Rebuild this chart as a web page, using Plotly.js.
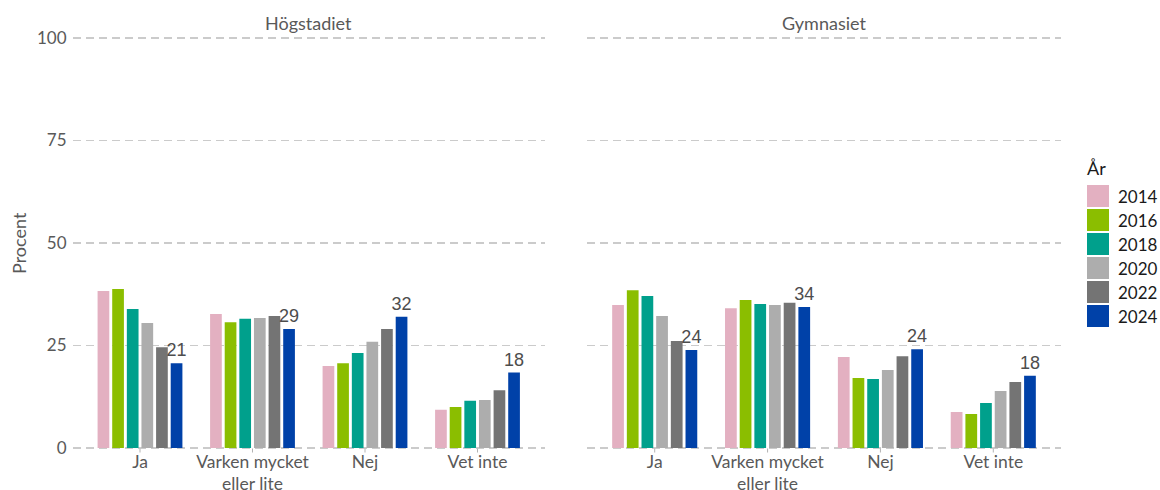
<!DOCTYPE html>
<html>
<head>
<meta charset="utf-8">
<script src="https://cdn.plot.ly/plotly-3.0.1.min.js"></script>
<style>html,body{margin:0;padding:0;background:#fff}</style>
</head>
<body>
<div id="chart" style="width:1160px;height:490px"></div>
<script>
// ---- data ----
const categories = ["Ja", "Varken mycket<br>eller lite", "Nej", "Vet inte"];
const panels = ["Högstadiet", "Gymnasiet"];
const years = ["2014", "2016", "2018", "2020", "2022", "2024"];
const colors = ["#E3B0C1", "#8BBE00", "#00A08C", "#ADADAD", "#747474", "#0041A8"];

// Högstadiet: values per year, ordered as categories
const hog2014 = [38.3, 32.7, 20.0, 9.3];
const hog2016 = [38.8, 30.7, 20.7, 10.0];
const hog2018 = [33.9, 31.5, 23.2, 11.5];
const hog2020 = [30.5, 31.7, 25.9, 11.7];
const hog2022 = [24.6, 32.2, 29.0, 14.1];
const hog2024 = [20.7, 29.0, 32.0, 18.4];

// Gymnasiet
const gym2014 = [34.9, 34.1, 22.2, 8.8];
const gym2016 = [38.5, 36.1, 17.1, 8.3];
const gym2018 = [37.1, 35.1, 16.8, 11.0];
const gym2020 = [32.2, 34.9, 19.0, 13.9];
const gym2022 = [26.1, 35.4, 22.4, 16.1];
const gym2024 = [23.9, 34.4, 24.1, 17.6];

const yTicks = [0, 25, 50, 75, 100];

const hogSeries = [hog2014, hog2016, hog2018, hog2020, hog2022, hog2024];
const gymSeries = [gym2014, gym2016, gym2018, gym2020, gym2022, gym2024];

// ---- traces ----
const labelFont = {family: "Liberation Sans, Arial, sans-serif", size: 18, color: "#4D4D4D"};
const traces = [];
function addPanel(series, xa, ya) {
  series.forEach((vals, i) => {
    const isLast = i === years.length - 1;
    traces.push({
      type: "bar",
      name: years[i],
      x: categories,
      y: vals,
      xaxis: xa,
      yaxis: ya,
      marker: {color: colors[i]},
      showlegend: false,
      text: isLast ? vals.map(v => String(Math.round(v))) : undefined,
      textposition: isLast ? "outside" : "none",
      textfont: labelFont,
      constraintext: "none",
      cliponaxis: false,
      hoverinfo: "x+y+name"
    });
  });
}
addPanel(hogSeries, "x", "y");
addPanel(gymSeries, "x2", "y2");

// ---- layout helpers ----
const W = 1160, H = 490;
const px = v => v / W;
const py = v => (H - v) / H;

const fontFam = "Lato, Open Sans, sans-serif";
const yTickFont = {family: fontFam, size: 17, color: "#595959"};
const xTickFont = {family: fontFam, size: 17.5, color: "#595959"};
const gridCol = "#CBCBCB";

function xAxis(domain, anchor) {
  return {
    domain: domain,
    anchor: anchor,
    type: "category",
    range: [-0.6, 3.6],
    showgrid: false,
    zeroline: false,
    showline: false,
    ticks: "",
    ticklen: 0,
    tickfont: xTickFont,
    fixedrange: true
  };
}
function yAxis(anchor, showLabels) {
  return {
    anchor: anchor,
    domain: [py(449.23), py(36.77)],
    range: [-0.3, 100.3],
    tickvals: yTicks,
    showticklabels: showLabels,
    tickfont: yTickFont,
    ticklabelstandoff: 5,
    showgrid: true,
    gridcolor: gridCol,
    gridwidth: 1.5,
    griddash: "8px,5px",
    zeroline: false,
    showline: false,
    ticks: "",
    fixedrange: true
  };
}

const annotations = [];
const shapes = [];
panels.forEach((p, i) => {
  const xr = i === 0 ? "x" : "x2";
  annotations.push({
    text: p, xref: xr + " domain", x: 0.5,
    yref: "paper", y: py(23), xanchor: "center", yanchor: "middle",
    showarrow: false, font: {family: fontFam, size: 18, color: "#595959"}
  });
  // small category tick marks below the baseline
  categories.forEach(c => {
    shapes.push({
      type: "line", xref: xr, yref: "paper",
      x0: c, x1: c, y0: py(448.5), y1: py(452.5),
      line: {color: "#B3B3B3", width: 1}
    });
  });
});
// y axis title
annotations.push({
  text: "Procent", xref: "paper", x: px(19), yref: "paper", y: py(243),
  textangle: -90, xanchor: "center", yanchor: "middle", showarrow: false,
  font: {family: fontFam, size: 18, color: "#595959"}
});
// custom legend
annotations.push({
  text: "År", xref: "paper", x: px(1085), yref: "paper", y: py(168),
  xanchor: "left", yanchor: "middle", showarrow: false,
  font: {family: fontFam, size: 18, color: "#1A1A1A"}
});
years.forEach((yr, i) => {
  const top = 185 + 24 * i;
  shapes.push({
    type: "rect", xref: "paper", yref: "paper",
    x0: px(1087), x1: px(1109), y0: py(top + 22), y1: py(top),
    fillcolor: colors[i], line: {width: 0}
  });
  annotations.push({
    text: yr, xref: "paper", x: px(1116), yref: "paper", y: py(top + 11),
    xanchor: "left", yanchor: "middle", showarrow: false,
    font: {family: fontFam, size: 17, color: "#1A1A1A"}
  });
});

const layout = {
  width: W, height: H,
  margin: {l: 0, r: 0, t: 0, b: 0},
  paper_bgcolor: "#FFFFFF",
  plot_bgcolor: "#FFFFFF",
  barmode: "group",
  bargap: 0.22,
  bargroupgap: 0.2,
  showlegend: false,
  xaxis: xAxis([px(72.5), px(545)], "y"),
  yaxis: yAxis("x", true),
  xaxis2: xAxis([px(587), px(1061)], "y2"),
  yaxis2: yAxis("x2", false),
  annotations: annotations,
  shapes: shapes
};

Plotly.newPlot("chart", traces, layout, {displayModeBar: false, staticPlot: true});
</script>
</body>
</html>
